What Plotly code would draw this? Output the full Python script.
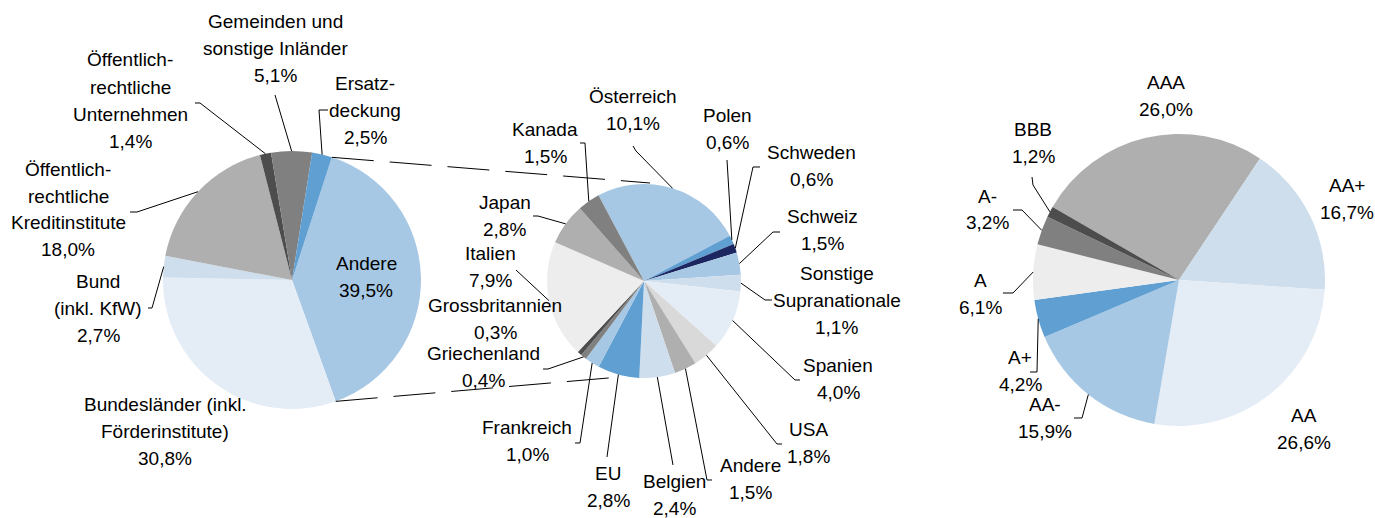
import math
import plotly.graph_objects as go

W, H = 1375, 518

# Pie 1: Deckungsstock nach Schuldnern
p1_labels = ["Andere", "Bundesländer (inkl.<br>Förderinstitute)", "Bund<br>(inkl. KfW)",
             "Öffentlich-<br>rechtliche<br>Kreditinstitute", "Öffentlich-<br>rechtliche<br>Unternehmen",
             "Gemeinden und<br>sonstige Inländer", "Ersatz-<br>deckung"]
p1_values = [39.5, 30.8, 2.7, 18.0, 1.4, 5.1, 2.5]
p1_colors = ["#A7C8E4", "#E4ECF6", "#CFDEEC", "#AFAFAF", "#4D4D4D", "#808080", "#5F9FD2"]

# Pie 2: Aufteilung "Andere"
p2_labels = ["Österreich", "Polen", "Schweden", "Schweiz", "Sonstige<br>Supranationale", "Spanien",
             "USA", "Andere", "Belgien", "EU", "Frankreich", "Griechenland", "Grossbritannien",
             "Italien", "Japan", "Kanada"]
p2_values = [10.1, 0.6, 0.6, 1.5, 1.1, 4.0, 1.8, 1.5, 2.4, 2.8, 1.0, 0.4, 0.3, 7.9, 2.8, 1.5]
p2_colors = ["#A7C8E4", "#5F9FD2", "#1C2761", "#A7C8E4", "#CFDEEC", "#E4ECF6", "#D9D9D9", "#AFAFAF",
             "#CFDEEC", "#5F9FD2", "#A7C8E4", "#808080", "#4D4D4D", "#EDEDED", "#AFAFAF", "#808080"]

# Pie 3: Ratings
p3_labels = ["AAA", "AA+", "AA", "AA-", "A+", "A", "A-", "BBB"]
p3_values = [26.0, 16.7, 26.6, 15.9, 4.2, 6.1, 3.2, 1.2]
p3_colors = ["#AFAFAF", "#CFDEEC", "#E4ECF6", "#A7C8E4", "#5F9FD2", "#EDEDED", "#808080", "#4D4D4D"]

# geometry (pixels): center x, center y, radius, rotation
pies = [
    dict(labels=p1_labels, values=p1_values, colors=p1_colors, cx=292, cy=280, r=129, rot=18),
    dict(labels=p2_labels, values=p2_values, colors=p2_colors, cx=644, cy=281, r=97, rot=-28),
    dict(labels=p3_labels, values=p3_values, colors=p3_colors, cx=1179, cy=280, r=146, rot=-60),
]

# label placement: (center x, first line y, leader points from label towards slice)
label_pos = [
    {
        "Andere": (366, 263, None),
        "Bundesländer (inkl.<br>Förderinstitute)": (165, 404, None),
        "Bund<br>(inkl. KfW)": (98, 281, [(148, 308), (152, 308)]),
        "Öffentlich-<br>rechtliche<br>Kreditinstitute": (68, 169, [(130, 212), (137, 212)]),
        "Öffentlich-<br>rechtliche<br>Unternehmen": (130, 60, [(195, 103), (200, 103)]),
        "Gemeinden und<br>sonstige Inländer": (275, 21, [(275, 95)]),
        "Ersatz-<br>deckung": (365, 83, [(328, 110), (319, 110)]),
    },
    {
        "Österreich": (633, 97, [(633, 146), (636, 151)]),
        "Polen": (728, 115, [(727, 160)]),
        "Schweden": (811, 153, [(760, 167), (753, 167)]),
        "Schweiz": (822, 217, [(780, 232), (773, 232)]),
        "Sonstige<br>Supranationale": (837, 273, [(772, 300), (765, 300)]),
        "Spanien": (838, 365, [(800, 380), (795, 380)]),
        "USA": (808, 429, [(782, 444), (777, 444)]),
        "Andere": (750, 465, [(712, 480), (707, 480)]),
        "Belgien": (674, 481, [(673, 465)]),
        "EU": (608, 473, [(607, 457)]),
        "Frankreich": (527, 427, [(575, 443), (580, 443)]),
        "Griechenland": (483, 353, [(543, 369), (548, 369)]),
        "Grossbritannien": (495, 305, None),
        "Italien": (490, 253, [(516, 270)]),
        "Japan": (505, 202, [(533, 216), (538, 216)]),
        "Kanada": (545, 130, [(580, 143), (585, 143)]),
    },
    {
        "AAA": (1166, 82, None),
        "AA+": (1347, 185, None),
        "AA": (1304, 415, None),
        "AA-": (1045, 404, [(1074, 418), (1082, 418)]),
        "A+": (1020, 357, [(1030, 372), (1037, 372)]),
        "A": (980, 280, [(1003, 293), (1013, 293)]),
        "A-": (987, 196, [(1013, 210), (1022, 210)]),
        "BBB": (1033, 130, [(1032, 177), (1033, 185)]),
    },
]

LINE_H = 27
FONT = dict(family="Arial, Liberation Sans, sans-serif", size=19, color="#000000")


def px(x, y):
    return x / W, 1 - y / H


def slice_point(p, i, frac):
    total = sum(p["values"])
    before = sum(p["values"][:i])
    ang = math.radians(p["rot"] + 360 * (before + p["values"][i] * frac) / total)
    return p["cx"] + p["r"] * math.sin(ang), p["cy"] - p["r"] * math.cos(ang)


fig = go.Figure()
annotations = []
shapes = []

for p, pos in zip(pies, label_pos):
    fig.add_trace(go.Pie(
        labels=p["labels"], values=p["values"],
        marker=dict(colors=p["colors"], line=dict(width=0)),
        sort=False, direction="clockwise", rotation=p["rot"],
        textinfo="none", hoverinfo="label+value", showlegend=False,
        domain=dict(x=[(p["cx"] - p["r"]) / W, (p["cx"] + p["r"]) / W],
                    y=[1 - (p["cy"] + p["r"]) / H, 1 - (p["cy"] - p["r"]) / H]),
    ))
    for i, (lab, val) in enumerate(zip(p["labels"], p["values"])):
        cx, y0, leader = pos[lab]
        lines = lab.split("<br>") + [f"{val:.1f}".replace(".", ",") + "%"]
        for k, t in enumerate(lines):
            x, y = px(cx, y0 + k * LINE_H)
            annotations.append(dict(x=x, y=y, xref="paper", yref="paper", text=t,
                                    showarrow=False, xanchor="center", yanchor="middle", font=FONT))
        if leader:
            pts = leader + [slice_point(p, i, 0.5)]
            path = "M " + " L ".join(f"{px(a, b)[0]:.5f},{px(a, b)[1]:.5f}" for a, b in pts)
            shapes.append(dict(type="path", path=path, xref="paper", yref="paper",
                               line=dict(color="#000000", width=1)))

# dashed connectors from "Andere" slice of pie 1 to pie 2
p1, p2 = pies[0], pies[1]
top_start = slice_point(p1, 0, 0)
bot_start = slice_point(p1, 0, 1)
for (a, b), (c, d) in [(top_start, (p2["cx"] + 6, p2["cy"] - p2["r"] - 1)),
                       (bot_start, (p2["cx"] - 24, p2["cy"] + p2["r"] - 1))]:
    x0, y0 = px(a, b)
    x1, y1 = px(c, d)
    shapes.append(dict(type="line", x0=x0, y0=y0, x1=x1, y1=y1, xref="paper", yref="paper",
                       line=dict(color="#000000", width=1, dash="42px,16px")))

fig.update_layout(
    width=W, height=H,
    margin=dict(l=0, r=0, t=0, b=0),
    paper_bgcolor="white", plot_bgcolor="white",
    annotations=annotations, shapes=shapes,
)

# no page margin, so the figure sits at the window's top-left corner
fig.write_html("out.html", config={"displayModeBar": False},
               post_script="document.body.style.margin='0';document.body.style.overflow='hidden';")
